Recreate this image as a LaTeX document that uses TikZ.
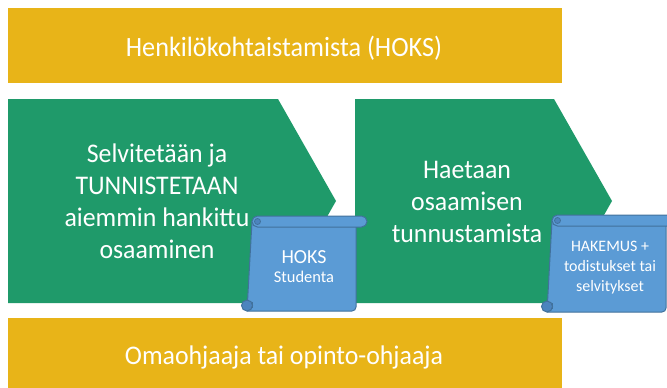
\documentclass[tikz,border=0pt]{standalone}
\usepackage{fontspec}
\setmainfont{Carlito}
\newfontfamily\topfont{Carlito}[FakeStretch=0.94]
\newfontfamily\bigfont{Carlito}[FakeStretch=0.96]
\definecolor{barY}{RGB}{232,180,24}
\definecolor{grn}{RGB}{31,154,106}
\definecolor{scrB}{RGB}{91,155,213}
\definecolor{scrD}{RGB}{65,113,156}
\definecolor{scrC}{RGB}{76,132,190}
\tikzset{
  bigtxt/.style={text=white,font=\bigfont\fontsize{27}{32}\selectfont,align=center,anchor=base,inner sep=0pt},
  toptxt/.style={bigtxt,font=\topfont\fontsize{28}{32}\selectfont},
  smalltxt/.style={text=white,font=\fontsize{16}{20}\selectfont,align=center,anchor=base,inner sep=0pt},
  scrollfill/.style={fill=scrB,draw=scrD,line width=1pt,line join=round},
}
% #1 xL, #2 xR, #3 yT, #4 yB  (roll height 11)
\newcommand\myscroll[4]{%
  \path[scrollfill] (#1,#3+5.5) -- (#2,#3+5.5)
     [rounded corners=4] -- (#2,#4) [sharp corners] -- (#1-5,#4) -- cycle;
  \path[scrollfill,rounded corners=5.5] (#1,#3) rectangle (#2+11,#3+11);
  \path[fill=scrC,draw=scrD,line width=0.8pt] (#1+5.5,#3+5.5) circle (3);
  \path[fill=scrC,draw=scrD,line width=1pt] (#1-5,#4-5.5) circle (5.5);
  \draw[scrD,line width=0.8pt] (#1,#4-9) -- (#1,#4-3);
}
\begin{document}
\begin{tikzpicture}[x=1bp,y=-1bp]
\useasboundingbox (0,0) rectangle (667,387);
\clip (0,0) rectangle (667,387);
% bars
\fill[barY] (8,8) rectangle (562,83);
\fill[barY] (8,318) rectangle (562,390);
\node[toptxt] (top) at (284,56) {Henkilökohtaistamista (HOKS)};
\node[bigtxt] (bot) at (284,364) {Omaohjaaja tai opinto-ohjaaja};
% pentagons
\fill[grn] (8,99) -- (278,99) -- (336,201) -- (278,303) -- (8,303) -- cycle;
\fill[grn] (355,99) -- (554,99) -- (612,201) -- (554,303) -- (355,303) -- cycle;
\node[bigtxt] (p1) at (157,258) {Selvitetään ja\\TUNNISTETAAN\\aiemmin hankittu\\osaaminen};
\node[bigtxt] (p2) at (467,242) {Haetaan\\osaamisen\\tunnustamista};
% scrolls
\myscroll{252}{356}{216}{311}
\myscroll{552}{666}{215}{312}
\node[smalltxt,font=\fontsize{20}{24}\selectfont] (s1a) at (304,263) {HOKS};
\node[smalltxt,font=\fontsize{16.5}{20}\selectfont] (s1b) at (304,282) {Studenta};
\node[smalltxt] (s2) at (610,291) {HAKEMUS +\\todistukset tai\\selvitykset};
\end{tikzpicture}
\end{document}
